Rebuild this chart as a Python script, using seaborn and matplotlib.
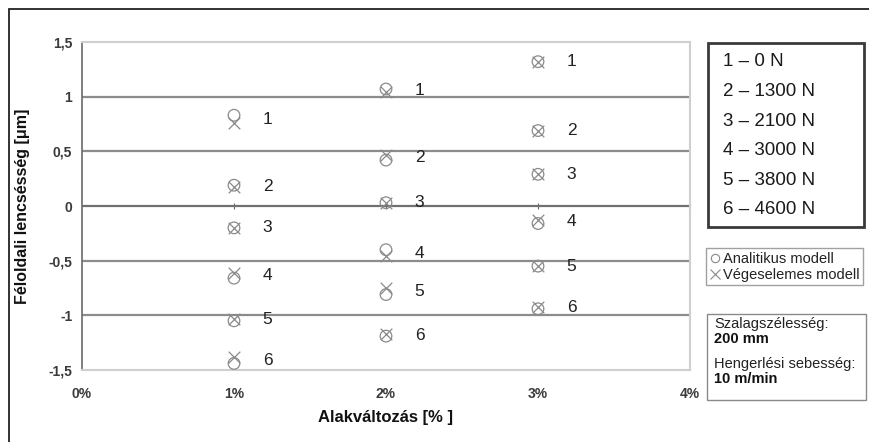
import matplotlib
matplotlib.use("Agg")
import matplotlib.pyplot as plt
from matplotlib.patches import Rectangle
from matplotlib.lines import Line2D
import seaborn as sns
import pandas as pd

# deformation levels [%]
strain = [1, 2, 3]
load_ids = ["1", "2", "3", "4", "5", "6"]
load_names = ["1 – 0 N", "2 – 1300 N", "3 – 2100 N", "4 – 3000 N", "5 – 3800 N", "6 – 4600 N"]

# edge waviness [um], analytical model, per strain level
analitikus_1 = [0.83, 0.19, -0.20, -0.66, -1.05, -1.44]
analitikus_2 = [1.07, 0.42, 0.03, -0.40, -0.81, -1.19]
analitikus_3 = [1.32, 0.69, 0.29, -0.16, -0.55, -0.94]
# finite element model
vegeselemes_1 = [0.76, 0.17, -0.20, -0.61, -1.03, -1.38]
vegeselemes_2 = [1.04, 0.47, 0.03, -0.46, -0.75, -1.17]
vegeselemes_3 = [1.32, 0.69, 0.29, -0.13, -0.55, -0.92]

y_ticks = [-1.5, -1, -0.5, 0, 0.5, 1, 1.5]
y_tick_labels = ["-1,5", "-1", "-0,5", "0", "0,5", "1", "1,5"]
x_ticks = [0, 1, 2, 3, 4]
x_tick_labels = ["0%", "1%", "2%", "3%", "4%"]

rows = []
for s, an, ve in zip(strain, [analitikus_1, analitikus_2, analitikus_3],
                     [vegeselemes_1, vegeselemes_2, vegeselemes_3]):
    for lid, a, v in zip(load_ids, an, ve):
        rows.append({"strain": s, "load": lid, "model": "Analitikus", "value": a})
        rows.append({"strain": s, "load": lid, "model": "Végeselemes", "value": v})
df = pd.DataFrame(rows)

sns.set_style("white")
plt.rcParams["font.family"] = ["Liberation Sans", "DejaVu Sans"]

W, H = 869, 442
fig = plt.figure(figsize=(W / 100, H / 100), dpi=100)
ax = fig.add_axes([82 / W, 1 - 370 / H, (690 - 82) / W, (370 - 42) / H])

mark_col = "#8a8a8a"
an_df = df[df["model"] == "Analitikus"]
ve_df = df[df["model"] == "Végeselemes"]
sns.scatterplot(data=an_df, x="strain", y="value", marker="o", s=70,
                facecolors="none", edgecolor=mark_col, linewidth=0.9, ax=ax, zorder=3)
sns.scatterplot(data=ve_df, x="strain", y="value", marker="x", s=70,
                color=mark_col, linewidth=0.9, ax=ax, zorder=3)

# load number labels next to each point pair
for s, grp in an_df.groupby("strain"):
    for lid, a in zip(grp["load"], grp["value"]):
        v = ve_df[(ve_df["strain"] == s) & (ve_df["load"] == lid)]["value"].iloc[0]
        ax.text(s + 0.22, (a + v) / 2, lid, fontsize=12.5, color="#222222",
                va="center", ha="center")

ax.set_xlim(0, 4)
ax.set_ylim(-1.5, 1.5)
ax.set_yticks(y_ticks)
ax.set_yticklabels(y_tick_labels)
ax.set_xticks(x_ticks)
ax.set_xticklabels(x_tick_labels)
ax.tick_params(axis="y", length=3, width=0.8, color="#666666", pad=4,
               labelsize=10, labelcolor="#3a3a3a")
ax.tick_params(axis="x", length=0, pad=12, labelsize=10, labelcolor="#3a3a3a")
for lab in ax.get_xticklabels() + ax.get_yticklabels():
    lab.set_fontweight("bold")

for yv in [-1, -0.5, 0.5, 1]:
    ax.axhline(yv, color="#8c8c8c", lw=1.6, zorder=1)
ax.axhline(0, color="#707070", lw=1.6, zorder=1)

# axis crossing at zero with small tick marks
sec = ax.secondary_xaxis(0.5)
sec.set_xticks(x_ticks[1:])
sec.xaxis.set_ticklabels([])
sec.tick_params(direction="inout", length=5, width=0.8, color="#666666")
for sp in sec.spines.values():
    sp.set_visible(False)

for side in ["top", "bottom", "right"]:
    ax.spines[side].set_color("#cfcfcf")
    ax.spines[side].set_linewidth(1.5)
ax.spines["left"].set_color("#6a6a6a")
ax.spines["left"].set_linewidth(1.2)

ax.set_xlabel("Alakváltozás [% ]", fontsize=12, fontweight="bold", color="#111111")
ax.set_ylabel("Féloldali lencsésség [μm]", fontsize=11.5, fontweight="bold", color="#111111")
ax.xaxis.set_label_coords(0.5, -0.122)
ax.yaxis.set_label_coords(-0.085, 0.5)


def fx(px):
    return px / W


def fy(py):
    return 1 - py / H


# outer chart border
fig.patches.append(Rectangle((fx(9), fy(460)), 1, fy(9) - fy(460), transform=fig.transFigure,
                             fill=False, edgecolor="#222222", lw=1.3))

# load legend box
fig.patches.append(Rectangle((fx(708), fy(227)), fx(864) - fx(708), fy(43) - fy(227),
                             transform=fig.transFigure, fill=False, edgecolor="#3a3a3a", lw=2))
for i, name in enumerate(load_names):
    fig.text(fx(723), fy(62 + i * 29.6), name, fontsize=13.5, va="center", ha="left", color="#1a1a1a")

# model legend
handles = [Line2D([], [], marker="o", ls="none", mfc="none", mec=mark_col, ms=6, mew=0.8),
           Line2D([], [], marker="x", ls="none", color=mark_col, ms=7, mew=0.8)]
leg = fig.legend(handles, ["Analitikus modell", "Végeselemes modell"], loc="upper left",
                 bbox_to_anchor=(fx(706), fy(248)), bbox_transform=fig.transFigure,
                 fontsize=10.5, handlelength=0.7, handletextpad=0.2, borderpad=0.25,
                 labelspacing=0.15, borderaxespad=0, fancybox=False, frameon=True)
leg.get_frame().set_edgecolor("#8a8a8a")
leg.get_frame().set_linewidth(1)
for t in leg.get_texts():
    t.set_color("#222222")

# process parameters box
fig.patches.append(Rectangle((fx(707), fy(400)), fx(866) - fx(707), fy(314) - fy(400),
                             transform=fig.transFigure, fill=False, edgecolor="#8a8a8a", lw=1))
fig.text(fx(714), fy(324), "Szalagszélesség:", fontsize=10.5, va="center", color="#222222")
fig.text(fx(714), fy(339), "200 mm", fontsize=10.5, va="center", fontweight="bold", color="#111111")
fig.text(fx(714), fy(364), "Hengerlési sebesség:", fontsize=10.5, va="center", color="#222222")
fig.text(fx(714), fy(379), "10 m/min", fontsize=10.5, va="center", fontweight="bold", color="#111111")

fig.savefig("out.png", dpi=100)
